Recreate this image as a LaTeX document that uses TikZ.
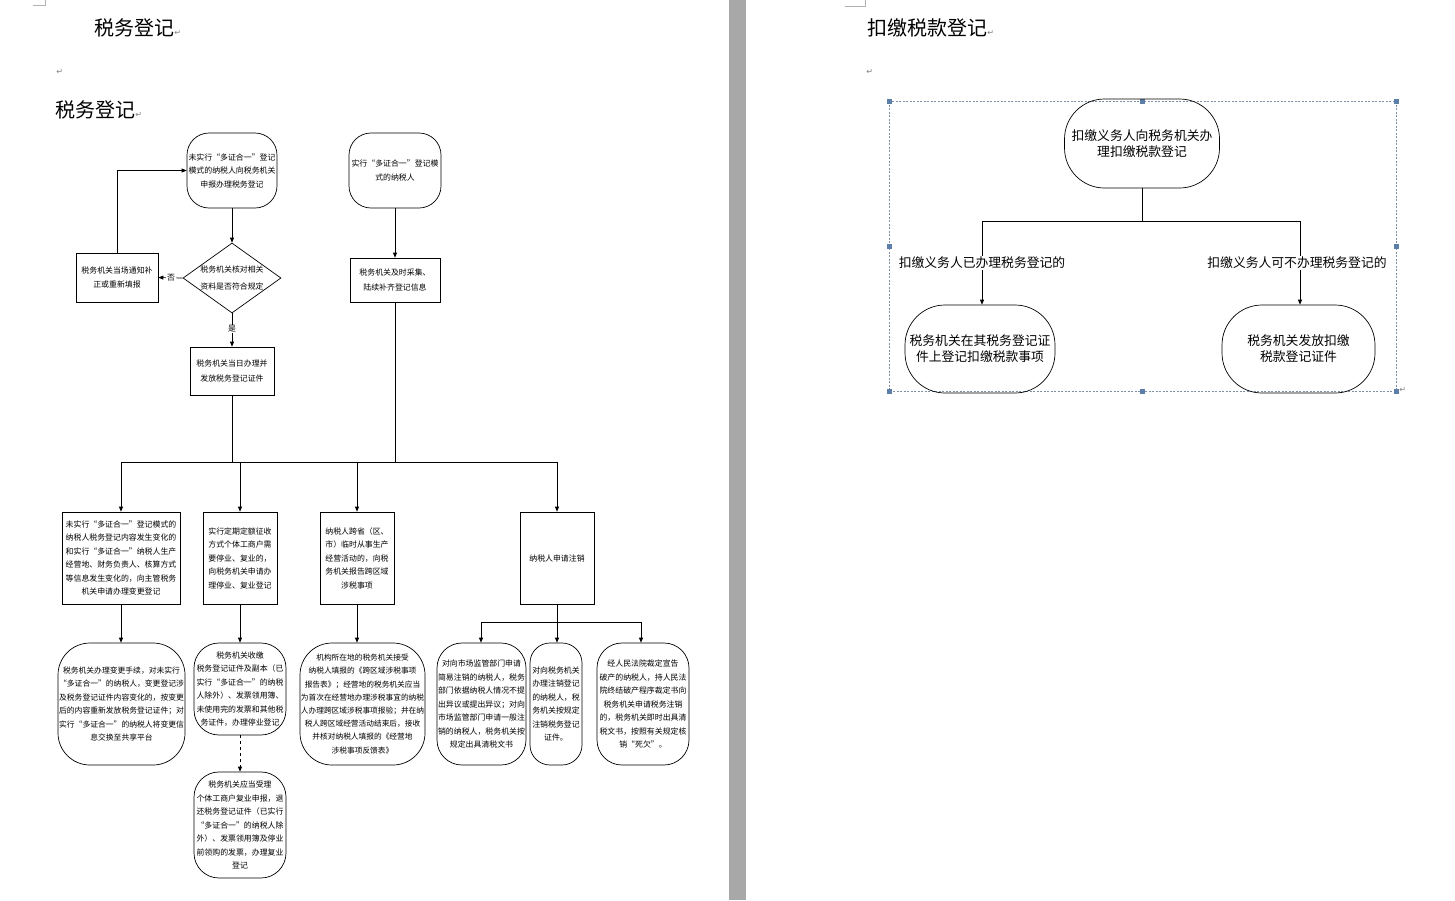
\documentclass[tikz,border=0pt]{standalone}
\usepackage{fontspec}
\setmainfont{Noto Sans CJK SC}
\newfontfamily\dejavu{DejaVu Sans}
\usetikzlibrary{arrows.meta,shapes.geometric}
\definecolor{selc}{HTML}{7F8FA6}
\definecolor{hnd}{HTML}{5B7FA8}
\definecolor{sepc}{HTML}{A8A8A8}
\newcommand\cnS{\fontsize{7.9}{13.5}\selectfont}
\newcommand\cnM{\fontsize{12.8}{16}\selectfont}
\newcommand\cnL{\fontsize{20}{22}\selectfont}
\newcommand\pmark{{\dejavu\fontsize{8}{8}\selectfont\textcolor{gray}{↵}}}
\newcommand\lqq{{\addfontfeature{RawFeature=+fwid}“}}
\newcommand\rqq{{\addfontfeature{RawFeature=+fwid}”}}
\begin{document}
\begin{tikzpicture}[x=1pt,y=-1pt,line width=0.7pt,
  term/.style={draw, rounded corners=#1, inner sep=0pt, align=center, font=\cnS},
  box/.style={draw, inner sep=0pt, align=center, font=\cnS},
  arr/.style={-{Triangle[length=5pt,width=4pt]}},
  lbl/.style={fill=white, inner sep=1pt, font=\cnS},
  title/.style={anchor=west, inner sep=0pt, font=\cnL}]
\useasboundingbox (0,0) rectangle (1455,900);
\fill[white] (0,0) rectangle (1455,900);
\fill[sepc] (729,0) rectangle (746,900);
% crop marks
\draw[gray!60, line width=0.5pt] (33,5) -- (45,5) -- (45,0);
\draw[gray!60, line width=0.5pt] (845,6) -- (865,6) -- (865,0);

% titles
\node[title] (t1) at (94,28) {税务登记\pmark};
\node[anchor=west, inner sep=0pt] (p1) at (56,72) {\pmark};
\node[title] (t2) at (55,110) {税务登记\pmark};
\node[title] (t3) at (867,28) {扣缴税款登记\pmark};
\node[anchor=west, inner sep=0pt] (p2) at (866,72) {\pmark};

% ---------- left flowchart ----------
\node[term=22pt, minimum width=90pt, minimum height=75pt] (A) at (232,170.5)
  {未实行\lqq 多证合一\rqq 登记\\模式的纳税人向税务机关\\申报办理税务登记};
\node[term=22pt, minimum width=92pt, minimum height=75pt] (B) at (395,170.5)
  {实行\lqq 多证合一\rqq 登记模\\式的纳税人};
\node[draw, diamond, minimum width=98pt, minimum height=70pt, inner sep=0pt] (D) at (232,278) {};
\node[align=center, inner sep=0pt, font=\fontsize{7.9}{17}\selectfont] (Dt) at (D.center)
  {税务机关核对相关\\资料是否符合规定};
\node[box, minimum width=82pt, minimum height=49pt] (L) at (117,277.5)
  {税务机关当场通知补\\正或重新填报};
\node[box, minimum width=84pt, minimum height=48pt, font=\fontsize{7.9}{15}\selectfont] (E) at (232,371)
  {税务机关当日办理并\\发放税务登记证件};
\node[box, minimum width=90pt, minimum height=44pt, font=\fontsize{7.9}{15}\selectfont] (F) at (395,280)
  {税务机关及时采集、\\陆续补齐登记信息};

\draw[arr] (A.south) -- (D.north);
\draw[arr] (B.south) -- (F.north);
\draw[arr] (D.west) -- (L.east);
\node[lbl] (no) at (171,278) {否};
\draw[arr] (L.north) -- (L.north |- A.west) -- (A.west);
\draw[arr] (D.south) -- (E.north);
\node[lbl] (yes) at (232,329) {是};

\node[box, minimum width=118pt, minimum height=92pt] (G1) at (121,558)
  {未实行\lqq 多证合一\rqq 登记模式的\\纳税人税务登记内容发生变化的\\和实行\lqq 多证合一\rqq 纳税人生产\\经营地、财务负责人、核算方式\\等信息发生变化的，向主管税务\\机关申请办理变更登记};
\node[box, minimum width=74pt, minimum height=92pt] (G2) at (240,558)
  {实行定期定额征收\\方式个体工商户需\\要停业、复业的，\\向税务机关申请办\\理停业、复业登记};
\node[box, minimum width=74pt, minimum height=92pt] (G3) at (357,558)
  {纳税人跨省（区、\\市）临时从事生产\\经营活动的，向税\\务机关报告跨区域\\涉税事项};
\node[box, minimum width=74pt, minimum height=92pt] (G4) at (557,558)
  {纳税人申请注销};

\coordinate (bL) at (121,462);
\coordinate (bR) at (557,462);
\draw (E.south) -- (E.south |- bL);
\draw (F.south) -- (F.south |- bL);
\draw (bL) -- (bR);
\draw[arr] (bL) -- (G1.north);
\draw[arr] (G2.north |- bL) -- (G2.north);
\draw[arr] (G3.north |- bL) -- (G3.north);
\draw[arr] (bR) -- (G4.north);

\node[term=32pt, minimum width=127pt, minimum height=122pt, font=\fontsize{7.8}{13.5}\selectfont] (H1) at (121.5,704)
  {税务机关办理变更手续，对未实行\\\lqq 多证合一\rqq 的纳税人，变更登记涉\\及税务登记证件内容变化的，按变更\\后的内容重新发放税务登记证件；对\\实行\lqq 多证合一\rqq 的纳税人将变更信\\息交换至共享平台};
\node[term=25pt, minimum width=92pt, minimum height=92pt] (H2) at (240,689)
  {税务机关收缴\\税务登记证件及副本（已\\实行\lqq 多证合一\rqq 的纳税\\人除外）、发票领用簿、\\未使用完的发票和其他税\\务证件，办理停业登记};
\node[term=25pt, minimum width=92pt, minimum height=106pt] (H4) at (240,825)
  {税务机关应当受理\\个体工商户复业申报，退\\还税务登记证件（已实行\\\lqq 多证合一\rqq 的纳税人除\\外）、发票领用簿及停业\\前领购的发票，办理复业\\登记};
\node[term=32pt, minimum width=125pt, minimum height=122pt, font=\fontsize{7.7}{13.2}\selectfont] (H3) at (362.5,704)
  {机构所在地的税务机关接受\\纳税人填报的《跨区域涉税事项\\报告表》；经营地的税务机关应当\\为首次在经营地办理涉税事宜的纳税\\人办理跨区域涉税事项报验；并在纳\\税人跨区域经营活动结束后，接收\\并核对纳税人填报的《经营地\\涉税事项反馈表》};
\node[term=25pt, minimum width=89pt, minimum height=122pt] (H5) at (481.5,704)
  {对向市场监管部门申请\\简易注销的纳税人，税务\\部门依据纳税人情况不提\\出异议或提出异议；对向\\市场监管部门申请一般注\\销的纳税人，税务机关按\\规定出具清税文书};
\node[term=20pt, minimum width=52pt, minimum height=122pt] (H6) at (556,704)
  {对向税务机关\\办理注销登记\\的纳税人，税\\务机关按规定\\注销税务登记\\证件。};
\node[term=25pt, minimum width=92pt, minimum height=122pt] (H7) at (643,704)
  {经人民法院裁定宣告\\破产的纳税人，持人民法\\院终结破产程序裁定书向\\税务机关申请税务注销\\的，税务机关即时出具清\\税文书，按照有关规定核\\销\lqq 死欠\rqq 。};

\draw[arr] (G1.south) -- (G1.south |- H1.north);
\draw[arr] (G2.south) -- (G2.south |- H2.north);
\draw[arr] (G3.south) -- (G3.south |- H3.north);
\draw[arr, dashed] (H2.south) -- (H4.north);
\coordinate (cM) at (557,622);
\coordinate (cL) at (481,622);
\coordinate (cR) at (641,622);
\draw (G4.south) -- (cM);
\draw (cL) -- (cR);
\draw[arr] (cL) -- (cL |- H5.north);
\draw[arr] (cM) -- (cM |- H6.north);
\draw[arr] (cR) -- (cR |- H7.north);

% ---------- right flowchart ----------
\draw[selc, line width=0.6pt, dash pattern=on 2pt off 1.5pt] (889,101) rectangle (1396,391);
\foreach \hx/\hy in {889/101,1142/101,1396/101,889/246,1396/246,889/391,1142/391,1396/391}
  \fill[hnd] (\hx-2.5,\hy-2.5) rectangle (\hx+2.5,\hy+2.5);
\node[anchor=west, inner sep=0pt] (p3) at (1399,390) {\pmark};

\node[term=40pt, minimum width=155pt, minimum height=89pt, font=\cnM] (T) at (1142,143.5)
  {扣缴义务人向税务机关办\\理扣缴税款登记};
\node[term=40pt, minimum width=150pt, minimum height=88pt, font=\cnM] (R1) at (980,349)
  {税务机关在其税务登记证\\件上登记扣缴税款事项};
\node[term=40pt, minimum width=153pt, minimum height=88pt, font=\cnM] (R2) at (1298.5,349)
  {税务机关发放扣缴\\税款登记证件};
\coordinate (rM) at (1142,221);
\coordinate (rL) at (982,221);
\coordinate (rR) at (1300,221);
\draw (T.south) -- (rM);
\draw (rL) -- (rR);
\draw[arr] (rL) -- (rL |- R1.north);
\draw[arr] (rR) -- (rR |- R2.north);
\node[fill=white, inner sep=1pt, font=\cnM] (q1) at (982,263) {扣缴义务人已办理税务登记的};
\node[fill=white, inner sep=1pt, font=\cnM] (q2) at (1297,263) {扣缴义务人可不办理税务登记的};
\end{tikzpicture}
\end{document}
